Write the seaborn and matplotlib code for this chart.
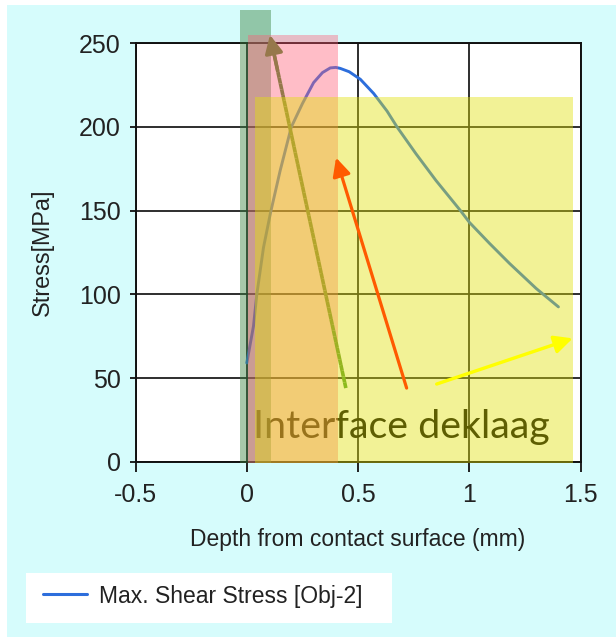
import matplotlib
matplotlib.use("Agg")
import matplotlib.pyplot as plt
import seaborn as sns
import numpy as np
import pandas as pd
from matplotlib.patches import Rectangle, FancyArrowPatch, ArrowStyle
from matplotlib.collections import LineCollection
from matplotlib.colors import LinearSegmentedColormap
from matplotlib.lines import Line2D

# ---------------- data ----------------
depth_mm = [0.0, 0.03, 0.045, 0.075, 0.107, 0.15, 0.2, 0.25, 0.30, 0.34, 0.375,
            0.40, 0.42, 0.46, 0.51, 0.57, 0.63, 0.675, 0.76, 0.85, 0.96, 1.0,
            1.09, 1.18, 1.30, 1.40]
stress_mpa = [59, 81, 100, 128, 149, 174, 200, 214, 226.5, 232.5, 235.3,
              235.6, 235, 233, 228.5, 220, 209.5, 200, 184, 168, 150, 143,
              130.5, 118.5, 103.5, 92.5]
series_label = "Max. Shear Stress [Obj-2]"

x_ticks = [-0.5, 0, 0.5, 1, 1.5]
x_tick_labels = ["-0.5", "0", "0.5", "1", "1.5"]
y_ticks = [0, 50, 100, 150, 200, 250]
y_tick_labels = ["0", "50", "100", "150", "200", "250"]
x_label = "Depth from contact surface (mm)"
y_label = "Stress[MPa]"
annotation_text = "Interface deklaag"

# highlighted zones (x0, x1, y0, y1) in data units
zone_green = (-0.03, 0.107, -1, 270)
zone_pink = (0.007, 0.408, -1, 255)
zone_yellow = (0.037, 1.464, -1, 217.7)
# arrows (tail, tip) in data units
arrow_olive = ((0.445, 44), (0.104, 255))
arrow_orange = ((0.718, 44), (0.401, 181.7))
arrow_yellow = ((0.853, 46.4), (1.464, 73.7))
text_anchor = (0.03, 14)

# ---------------- styling ----------------
sns.set_theme(style="white")
plt.rcParams["font.family"] = ["Liberation Sans", "DejaVu Sans"]
plt.rcParams["axes.unicode_minus"] = False

W, H = 616, 637
fig = plt.figure(figsize=(W / 100, H / 100), dpi=100)
fig.patch.set_facecolor("white")
cyan = "#d6fcfc"
fig.add_artist(Rectangle((6.7 / W, 0), 1 - 6.7 / W, 1 - 5 / H,
                         transform=fig.transFigure, facecolor=cyan,
                         edgecolor="none", zorder=-10))
# white legend panel
fig.add_artist(Rectangle((26 / W, 1 - 623.3 / H), 365.7 / W, 50 / H,
                         transform=fig.transFigure, facecolor="white",
                         edgecolor="none", zorder=-5))

ax_l, ax_r, ax_t, ax_b = 135.5, 580.7, 43.3, 461.7
ax = fig.add_axes([ax_l / W, 1 - ax_b / H, (ax_r - ax_l) / W, (ax_b - ax_t) / H])
ax.set_facecolor("white")
ax.set_axisbelow(True)

df = pd.DataFrame({"depth": depth_mm, "stress": stress_mpa})
sns.lineplot(data=df, x="depth", y="stress", ax=ax, color="#2d6edc",
             linewidth=2.1, zorder=2, label=series_label, legend=False)
for ln in ax.get_lines():
    ln.set_solid_joinstyle("round")
    ln.set_solid_capstyle("round")

ax.set_xlim(-0.5, 1.5)
ax.set_ylim(0, 250)
ax.set_xticks(x_ticks)
ax.set_xticklabels(x_tick_labels)
ax.set_yticks(y_ticks)
ax.set_yticklabels(y_tick_labels)
ax.grid(True, color="#1e1e1e", linewidth=1.3)
for s in ax.spines.values():
    s.set_color("#111111")
    s.set_linewidth(1.4)
    s.set_zorder(2.5)
ax.tick_params(axis="y", direction="out", length=4, width=1.3, pad=6.5,
               labelsize=18, colors="#111111", labelcolor="#222222", left=True)
ax.tick_params(axis="x", direction="out", length=7, width=1.3, pad=8,
               labelsize=18, colors="#111111", labelcolor="#222222", bottom=True)

ax.set_xlabel(x_label, fontsize=16.5, color="#222222")
ax.set_ylabel(y_label, fontsize=16.8, color="#222222")
ax.xaxis.set_label_coords(0.5, (ax_b - 528.0) / (ax_b - ax_t))
ax.yaxis.set_label_coords((54 - ax_l) / (ax_r - ax_l), 0.5)

# annotation text (sits below the translucent zones)
ax.text(text_anchor[0], text_anchor[1], annotation_text, fontsize=28.4,
        family=["Lato", "DejaVu Sans"], color="black", ha="left",
        va="baseline", zorder=2.2)

# translucent zones
def zone(z, color, alpha, zo):
    x0, x1, y0, y1 = z
    ax.add_patch(Rectangle((x0, y0), x1 - x0, y1 - y0, facecolor=color,
                           alpha=alpha, edgecolor="none", zorder=zo,
                           clip_on=False))

zone(zone_green, (62 / 255, 133 / 255, 67 / 255), 0.45, 3.0)
zone(zone_pink, (255 / 255, 92 / 255, 117 / 255), 0.40, 3.1)
zone(zone_yellow, (226 / 255, 226 / 255, 5 / 255), 0.42, 3.3)

# olive gradient arrow (between pink and yellow)
(tx, ty), (hx, hy) = arrow_olive
t = np.linspace(0, 0.96, 60)
px = tx + (hx - tx) * t
py = ty + (hy - ty) * t
pts = np.column_stack([px, py]).reshape(-1, 1, 2)
segs = np.concatenate([pts[:-1], pts[1:]], axis=1)
grad = LinearSegmentedColormap.from_list(
    "olive", [(0.0, (78 / 255, 158 / 255, 45 / 255)),
              (0.25, (145 / 255, 122 / 255, 72 / 255)),
              (1.0, (150 / 255, 120 / 255, 75 / 255))])
lc = LineCollection(segs, colors=grad(t[:-1]), linewidths=2.6, zorder=3.2,
                    clip_on=False, capstyle="butt")
ax.add_collection(lc)
head_style = ArrowStyle("-|>", head_length=0.55, head_width=0.27)
ax.add_patch(FancyArrowPatch((tx + (hx - tx) * 0.9, ty + (hy - ty) * 0.9), (hx, hy),
                             arrowstyle=head_style, mutation_scale=20,
                             color=(150 / 255, 120 / 255, 75 / 255), lw=2.4,
                             shrinkA=0, shrinkB=0, zorder=3.2, clip_on=False))

# bright arrows on top
for (a, b), c, lw in [(arrow_orange, "#ff5a00", 2.3), (arrow_yellow, "#ffff00", 2.4)]:
    ax.add_patch(FancyArrowPatch(a, b, arrowstyle=head_style, mutation_scale=20,
                                 color=c, lw=lw, shrinkA=0, shrinkB=0,
                                 zorder=4, clip_on=False))

# legend
handle = Line2D([], [], color="#2d6edc", linewidth=2.2)
fig.legend([handle], [series_label], loc="center left",
           bbox_to_anchor=(43.3 / W, 1 - 596 / H), frameon=False,
           borderpad=0, borderaxespad=0, handlelength=1.92,
           handletextpad=0.5, prop={"size": 16.5},
           labelcolor="#222222")

fig.savefig("out.png", dpi=100)
